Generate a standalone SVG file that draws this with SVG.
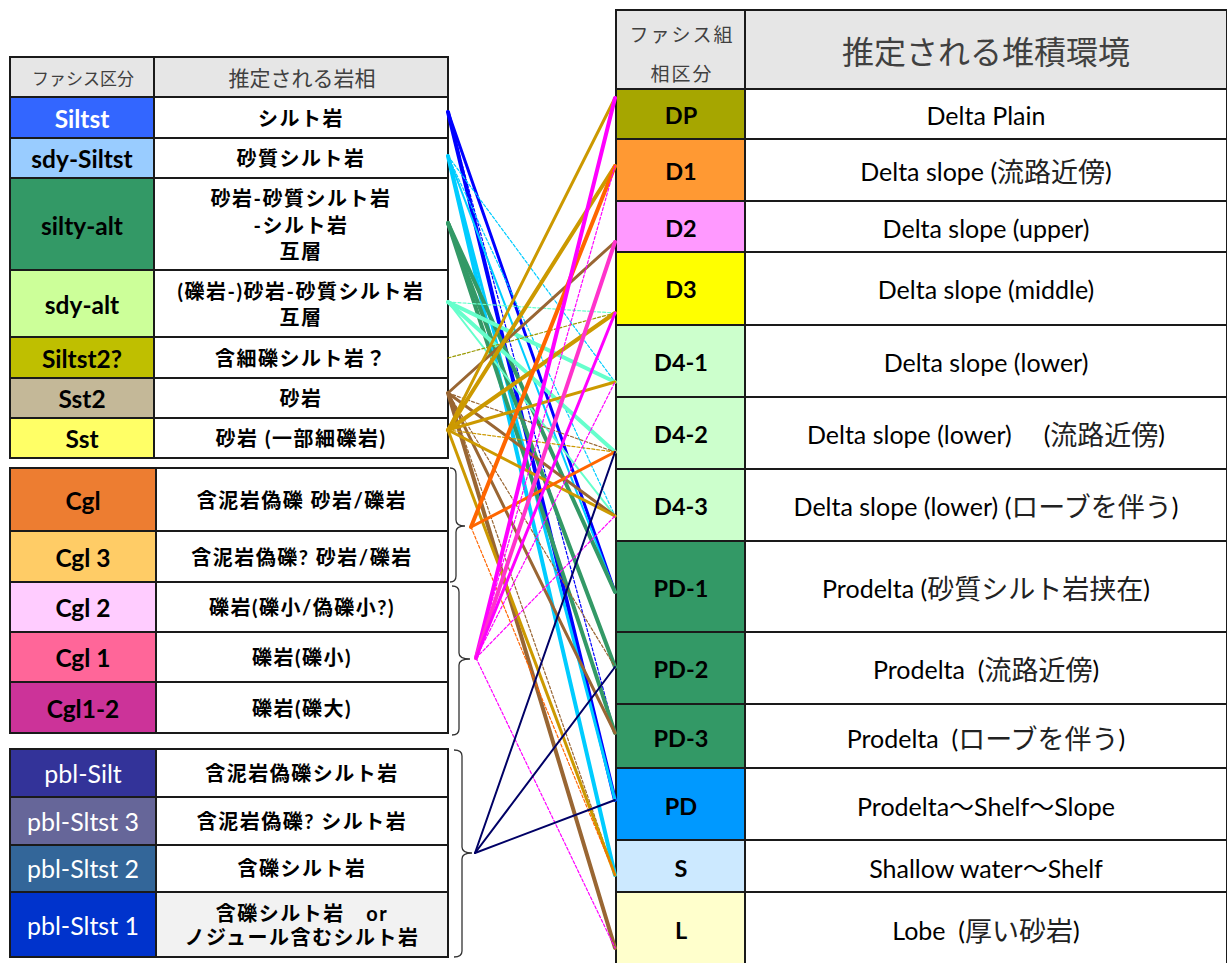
<svg xmlns="http://www.w3.org/2000/svg" width="1227" height="963" viewBox="0 0 1227 963">
<style>
.cell{stroke:#1a1a1a;stroke-width:2}
.hd{fill:#e6e6e6}
.wh{fill:#ffffff}
.code{font-family:Lato,"Noto Sans CJK JP",sans-serif;font-weight:700;font-size:24.5px;text-anchor:middle;dominant-baseline:central;fill:#000}
.rcode{font-size:23.5px}
.codew{font-family:Lato,"Noto Sans CJK JP",sans-serif;font-weight:400;font-size:25px;text-anchor:middle;dominant-baseline:central;fill:#fff}
.desc{font-family:Lato,"Noto Sans CJK JP",sans-serif;font-weight:700;font-size:20px;letter-spacing:1.5px;text-anchor:middle;dominant-baseline:central;fill:#000}
.env{font-family:Lato,"Noto Sans CJK JP",sans-serif;font-weight:400;font-size:25px;text-anchor:middle;dominant-baseline:central;fill:#000;white-space:pre}
.jp{font-size:27px;fill:#222}
.hdt{font-family:"Noto Sans CJK JP",sans-serif;font-weight:400;text-anchor:middle;dominant-baseline:central;fill:#404040}
.brk{fill:none;stroke:#333;stroke-width:1.3}
.c line{fill:none;stroke-linecap:round}
.w4{stroke-width:4}
.w3{stroke-width:3}
.w2{stroke-width:2}
.dsh{stroke-width:1.2;stroke-dasharray:3 2}
.blue{stroke:#0000ff}
.cyan{stroke:#00ccff}
.grn{stroke:#339966}
.aqua{stroke:#66ffcc}
.olv{stroke:#999900}
.brn{stroke:#996633}
.gld{stroke:#cc9900}
.org{stroke:#ff6600}
.mag{stroke:#ff00ff}
.pnk{stroke:#ff33cc}
.nvy{stroke:#000066}
</style>

<!-- Left table 1 -->
<g id="left-header">
<rect class="cell hd" x="10" y="57" width="144" height="40"/>
<rect class="cell hd" x="154" y="57" width="294" height="40"/>
<text class="hdt" x="83" y="77" font-size="17">ファシス区分</text>
<text class="hdt" x="302" y="77" font-size="21">推定される岩相</text>
</g>
<g id="Siltst">
<rect class="cell" fill="#3366ff" x="10" y="97" width="144" height="41"/>
<rect class="cell wh" x="154" y="97" width="294" height="41"/>
<text class="code" x="82" y="118" style="fill:#fff">Siltst</text>
<text class="desc" x="301" y="118">シルト岩</text>
</g>
<g id="sdy-Siltst">
<rect class="cell" fill="#99ccff" x="10" y="138" width="144" height="40"/>
<rect class="cell wh" x="154" y="138" width="294" height="40"/>
<text class="code" x="82" y="158">sdy-Siltst</text>
<text class="desc" x="301" y="158">砂質シルト岩</text>
</g>
<g id="silty-alt">
<rect class="cell" fill="#339966" x="10" y="178" width="144" height="92"/>
<rect class="cell wh" x="154" y="178" width="294" height="92"/>
<text class="code" x="82" y="225">silty-alt</text>
<text class="desc" x="301" y="198">砂岩-砂質シルト岩</text>
<text class="desc" x="301" y="225">-シルト岩</text>
<text class="desc" x="301" y="251">互層</text>
</g>
<g id="sdy-alt">
<rect class="cell" fill="#ccff99" x="10" y="270" width="144" height="67"/>
<rect class="cell wh" x="154" y="270" width="294" height="67"/>
<text class="code" x="82" y="304">sdy-alt</text>
<text class="desc" x="301" y="291">(礫岩-)砂岩-砂質シルト岩</text>
<text class="desc" x="301" y="317">互層</text>
</g>
<g id="Siltst2">
<rect class="cell" fill="#bfbf00" x="10" y="337" width="144" height="41"/>
<rect class="cell wh" x="154" y="337" width="294" height="41"/>
<text class="code" x="82" y="358">Siltst2?</text>
<text class="desc" x="301" y="358">含細礫シルト岩？</text>
</g>
<g id="Sst2">
<rect class="cell" fill="#c4b898" x="10" y="378" width="144" height="40"/>
<rect class="cell wh" x="154" y="378" width="294" height="40"/>
<text class="code" x="82" y="398">Sst2</text>
<text class="desc" x="301" y="398">砂岩</text>
</g>
<g id="Sst">
<rect class="cell" fill="#ffff66" x="10" y="418" width="144" height="40"/>
<rect class="cell wh" x="154" y="418" width="294" height="40"/>
<text class="code" x="82" y="438">Sst</text>
<text class="desc" x="301" y="438">砂岩 (一部細礫岩)</text>
</g>

<!-- Left table 2 -->
<g id="Cgl">
<rect class="cell" fill="#ed7d31" x="10" y="468" width="146" height="63"/>
<rect class="cell wh" x="156" y="468" width="292" height="63"/>
<text class="code" x="83" y="500">Cgl</text>
<text class="desc" x="302" y="500">含泥岩偽礫 砂岩/礫岩</text>
</g>
<g id="Cgl3">
<rect class="cell" fill="#ffcc66" x="10" y="531" width="146" height="51"/>
<rect class="cell wh" x="156" y="531" width="292" height="51"/>
<text class="code" x="83" y="557">Cgl 3</text>
<text class="desc" x="302" y="557">含泥岩偽礫? 砂岩/礫岩</text>
</g>
<g id="Cgl2">
<rect class="cell" fill="#ffccff" x="10" y="582" width="146" height="50"/>
<rect class="cell wh" x="156" y="582" width="292" height="50"/>
<text class="code" x="83" y="607">Cgl 2</text>
<text class="desc" x="302" y="607">礫岩(礫小/偽礫小?)</text>
</g>
<g id="Cgl1">
<rect class="cell" fill="#ff6699" x="10" y="632" width="146" height="50"/>
<rect class="cell wh" x="156" y="632" width="292" height="50"/>
<text class="code" x="83" y="657">Cgl 1</text>
<text class="desc" x="302" y="657">礫岩(礫小)</text>
</g>
<g id="Cgl1-2">
<rect class="cell" fill="#cc3399" x="10" y="682" width="146" height="51"/>
<rect class="cell wh" x="156" y="682" width="292" height="51"/>
<text class="code" x="83" y="708">Cgl1-2</text>
<text class="desc" x="302" y="708">礫岩(礫大)</text>
</g>

<!-- Left table 3 -->
<g id="pbl-Silt">
<rect class="cell" fill="#333399" x="10" y="749" width="146" height="48"/>
<rect class="cell wh" x="156" y="749" width="292" height="48"/>
<text class="codew" x="83" y="773">pbl-Silt</text>
<text class="desc" x="302" y="773">含泥岩偽礫シルト岩</text>
</g>
<g id="pbl-Sltst3">
<rect class="cell" fill="#666699" x="10" y="797" width="146" height="48"/>
<rect class="cell wh" x="156" y="797" width="292" height="48"/>
<text class="codew" x="83" y="821">pbl-Sltst 3</text>
<text class="desc" x="302" y="821">含泥岩偽礫? シルト岩</text>
</g>
<g id="pbl-Sltst2">
<rect class="cell" fill="#336699" x="10" y="845" width="146" height="47"/>
<rect class="cell wh" x="156" y="845" width="292" height="47"/>
<text class="codew" x="83" y="868">pbl-Sltst 2</text>
<text class="desc" x="302" y="868">含礫シルト岩</text>
</g>
<g id="pbl-Sltst1">
<rect class="cell" fill="#0033cc" x="10" y="892" width="146" height="65"/>
<rect class="cell" fill="#f2f2f2" x="156" y="892" width="292" height="65"/>
<text class="codew" x="83" y="925">pbl-Sltst 1</text>
<text class="desc" x="302" y="913" style="white-space:pre">含礫シルト岩　or</text>
<text class="desc" x="302" y="937">ノジュール含むシルト岩</text>
</g>

<!-- Brackets -->
<g id="brackets">
<path class="brk" d="M450,468 Q456,468 456,474 L456,520 Q456,526 465,526 Q456,526 456,532 L456,576 Q456,582 450,582"/>
<path class="brk" d="M452,586 Q459,586 459,592 L459,653 Q459,659 470,659 Q459,659 459,665 L459,729 Q459,735 452,735"/>
<path class="brk" d="M454,750 Q462,750 462,756 L462,847 Q462,853 472,853 Q462,853 462,859 L462,951 Q462,957 454,957"/>
</g>

<!-- Right table -->
<g id="right-header">
<rect class="cell hd" x="616" y="10" width="129" height="79"/>
<rect class="cell hd" x="745" y="10" width="482" height="79"/>
<text class="hdt" x="682" y="33" font-size="19" letter-spacing="2">ファシス組</text>
<text class="hdt" x="682" y="72" font-size="19" letter-spacing="2">相区分</text>
<text class="hdt" x="986" y="50" font-size="32">推定される堆積環境</text>
</g>
<g id="DP">
<rect class="cell" fill="#a6a600" x="616" y="89" width="129" height="50"/>
<rect class="cell wh" x="745" y="89" width="482" height="50"/>
<text class="code rcode" x="681" y="115">DP</text>
<text class="env" x="986" y="115">Delta Plain</text>
</g>
<g id="D1">
<rect class="cell" fill="#ff9933" x="616" y="139" width="129" height="62"/>
<rect class="cell wh" x="745" y="139" width="482" height="62"/>
<text class="code rcode" x="681" y="171">D1</text>
<text class="env" x="986" y="171">Delta slope (<tspan class="jp">流路近傍</tspan>)</text>
</g>
<g id="D2">
<rect class="cell" fill="#ff99ff" x="616" y="201" width="129" height="51"/>
<rect class="cell wh" x="745" y="201" width="482" height="51"/>
<text class="code rcode" x="681" y="228">D2</text>
<text class="env" x="986" y="228">Delta slope (upper)</text>
</g>
<g id="D3">
<rect class="cell" fill="#ffff00" x="616" y="252" width="129" height="73"/>
<rect class="cell wh" x="745" y="252" width="482" height="73"/>
<text class="code rcode" x="681" y="289">D3</text>
<text class="env" x="986" y="289">Delta slope (middle)</text>
</g>
<g id="D4-1">
<rect class="cell" fill="#ccffcc" x="616" y="325" width="129" height="72"/>
<rect class="cell wh" x="745" y="325" width="482" height="72"/>
<text class="code rcode" x="681" y="362">D4-1</text>
<text class="env" x="986" y="362">Delta slope (lower)</text>
</g>
<g id="D4-2">
<rect class="cell" fill="#ccffcc" x="616" y="397" width="129" height="72"/>
<rect class="cell wh" x="745" y="397" width="482" height="72"/>
<text class="code rcode" x="681" y="434">D4-2</text>
<text class="env" x="986" y="434">Delta slope (lower)     (<tspan class="jp">流路近傍</tspan>)</text>
</g>
<g id="D4-3">
<rect class="cell" fill="#ccffcc" x="616" y="469" width="129" height="72"/>
<rect class="cell wh" x="745" y="469" width="482" height="72"/>
<text class="code rcode" x="681" y="506">D4-3</text>
<text class="env" x="986" y="506">Delta slope (lower) (<tspan class="jp">ローブを伴う</tspan>)</text>
</g>
<g id="PD-1">
<rect class="cell" fill="#339966" x="616" y="541" width="129" height="91"/>
<rect class="cell wh" x="745" y="541" width="482" height="91"/>
<text class="code rcode" x="681" y="588">PD-1</text>
<text class="env" x="986" y="588">Prodelta (<tspan class="jp">砂質シルト岩挟在</tspan>)</text>
</g>
<g id="PD-2">
<rect class="cell" fill="#339966" x="616" y="632" width="129" height="72"/>
<rect class="cell wh" x="745" y="632" width="482" height="72"/>
<text class="code rcode" x="681" y="669">PD-2</text>
<text class="env" x="986" y="669">Prodelta  (<tspan class="jp">流路近傍</tspan>)</text>
</g>
<g id="PD-3">
<rect class="cell" fill="#339966" x="616" y="704" width="129" height="64"/>
<rect class="cell wh" x="745" y="704" width="482" height="64"/>
<text class="code rcode" x="681" y="738">PD-3</text>
<text class="env" x="986" y="738">Prodelta  (<tspan class="jp">ローブを伴う</tspan>)</text>
</g>
<g id="PD">
<rect class="cell" fill="#0099ff" x="616" y="768" width="129" height="72"/>
<rect class="cell wh" x="745" y="768" width="482" height="72"/>
<text class="code rcode" x="681" y="806">PD</text>
<text class="env" x="986" y="806">Prodelta～Shelf～Slope</text>
</g>
<g id="S">
<rect class="cell" fill="#cce9ff" x="616" y="840" width="129" height="52"/>
<rect class="cell wh" x="745" y="840" width="482" height="52"/>
<text class="code rcode" x="681" y="868">S</text>
<text class="env" x="986" y="868">Shallow water～Shelf</text>
</g>
<g id="L">
<rect class="cell" fill="#ffffcc" x="616" y="892" width="129" height="72"/>
<rect class="cell wh" x="745" y="892" width="482" height="72"/>
<text class="code rcode" x="681" y="930">L</text>
<text class="env" x="986" y="930">Lobe  (<tspan class="jp">厚い砂岩</tspan>)</text>
</g>

<!-- Connectors -->
<g id="connectors" class="c">
<!-- Siltst -->
<line class="blue w4" x1="448" y1="112" x2="615" y2="800"/>
<line class="blue w3" x1="448" y1="112" x2="615" y2="592"/>
<line class="blue dsh" x1="448" y1="112" x2="615" y2="733"/>
<!-- sdy-Siltst -->
<line class="cyan w4" x1="448" y1="156" x2="615" y2="875"/>
<line class="cyan w3" x1="448" y1="156" x2="615" y2="800"/>
<line class="cyan w2" x1="448" y1="156" x2="615" y2="592"/>
<line class="cyan dsh" x1="448" y1="156" x2="615" y2="382"/>
<line class="cyan dsh" x1="448" y1="156" x2="615" y2="516"/>
<!-- silty-alt -->
<line class="grn w4" x1="448" y1="223" x2="615" y2="592"/>
<line class="grn w4" x1="448" y1="223" x2="615" y2="667"/>
<line class="grn w4" x1="448" y1="223" x2="615" y2="733"/>
<!-- sdy-alt -->
<line class="aqua dsh" x1="448" y1="302" x2="615" y2="313"/>
<line class="aqua w4" x1="448" y1="302" x2="615" y2="382"/>
<line class="aqua w4" x1="448" y1="302" x2="615" y2="452"/>
<line class="aqua w2" x1="448" y1="302" x2="615" y2="516"/>
<!-- Siltst2? -->
<line class="olv dsh" x1="448" y1="358" x2="615" y2="313"/>
<!-- Sst2 -->
<line class="brn w3" x1="448" y1="393" x2="615" y2="242"/>
<line class="brn dsh" x1="448" y1="393" x2="615" y2="452"/>
<line class="brn w3" x1="448" y1="393" x2="615" y2="516"/>
<line class="brn dsh" x1="448" y1="393" x2="615" y2="667"/>
<line class="brn w3" x1="448" y1="393" x2="615" y2="733"/>
<line class="brn dsh" x1="448" y1="393" x2="615" y2="875"/>
<line class="brn w4" x1="448" y1="393" x2="615" y2="948"/>
<!-- Sst -->
<line class="gld w3" x1="448" y1="430" x2="615" y2="98"/>
<line class="gld w4" x1="448" y1="430" x2="615" y2="166"/>
<line class="gld w4" x1="448" y1="430" x2="615" y2="313"/>
<line class="gld w3" x1="448" y1="430" x2="615" y2="382"/>
<line class="gld dsh" x1="448" y1="430" x2="615" y2="452"/>
<line class="gld w3" x1="448" y1="430" x2="615" y2="516"/>
<line class="gld w3" x1="448" y1="430" x2="615" y2="875"/>
<!-- Cgl group -->
<line class="org w4" x1="471" y1="527" x2="615" y2="166"/>
<line class="org w3" x1="471" y1="527" x2="615" y2="452"/>
<line class="org dsh" x1="471" y1="527" x2="615" y2="875"/>
<!-- Cgl1 group -->
<line class="mag w4" x1="476" y1="658" x2="615" y2="98"/>
<line class="mag dsh" x1="476" y1="658" x2="615" y2="166"/>
<line class="pnk w4" x1="476" y1="658" x2="615" y2="242"/>
<line class="mag w3" x1="476" y1="658" x2="615" y2="313"/>
<line class="mag dsh" x1="476" y1="658" x2="615" y2="382"/>
<line class="mag dsh" x1="476" y1="658" x2="615" y2="516"/>
<line class="mag dsh" x1="476" y1="658" x2="615" y2="948"/>
<!-- pbl group -->
<line class="nvy w2" x1="475" y1="853" x2="615" y2="452"/>
<line class="nvy w2" x1="475" y1="853" x2="615" y2="667"/>
<line class="nvy w2" x1="475" y1="853" x2="615" y2="800"/>
</g>
</svg>
